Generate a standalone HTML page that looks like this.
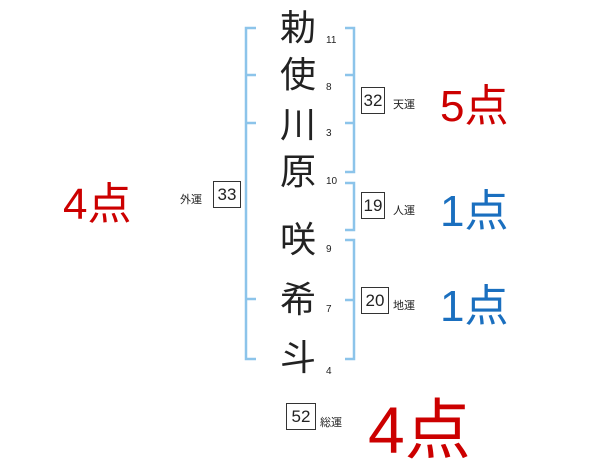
<!DOCTYPE html>
<html><head><meta charset="utf-8"><style>
body{margin:0;width:600px;height:470px;background:#fff;position:relative;overflow:hidden;font-family:"Liberation Sans","Noto Sans CJK JP",sans-serif;color:#222}
.a{position:absolute;white-space:nowrap}
.k{font-size:36px;width:60px;text-align:center;left:268px;line-height:40px}
.n{font-size:10px;left:326px}
.b{border:1px solid #333;font-size:17px;text-align:center;line-height:25px;height:25px}
.l{font-size:11px}
.r{color:#c00}
.bl{color:#1a6fbf}
</style></head><body>
<svg class="a" style="left:0;top:0" width="600" height="470">
<g stroke="#8cc4ea" stroke-width="2.5" fill="none">
<path d="M256 28H246V359H256M246 75H256M246 123H256M246 299H256"/>
<path d="M345 28H354V172H345M345 75H354M345 123H354"/>
<path d="M345 183H354V230H345"/>
<path d="M345 240H354V359H345M345 300H354"/>
</g></svg>
<div class="a k" style="top:8px">勅</div>
<div class="a k" style="top:55px">使</div>
<div class="a k" style="top:105px">川</div>
<div class="a k" style="top:152px">原</div>
<div class="a k" style="top:220px">咲</div>
<div class="a k" style="top:280px">希</div>
<div class="a k" style="top:338px">斗</div>
<div class="a n" style="top:35px">11</div>
<div class="a n" style="top:82px">8</div>
<div class="a n" style="top:128px">3</div>
<div class="a n" style="top:176px">10</div>
<div class="a n" style="top:244px">9</div>
<div class="a n" style="top:304px">7</div>
<div class="a n" style="top:366px">4</div>
<div class="a b" style="left:361px;top:87px;width:22px">32</div>
<div class="a l" style="left:393px;top:96px">天運</div>
<div class="a b" style="left:361px;top:192px;width:22px">19</div>
<div class="a l" style="left:393px;top:202px">人運</div>
<div class="a b" style="left:361px;top:287px;width:26px">20</div>
<div class="a l" style="left:393px;top:297px">地運</div>
<div class="a b" style="left:213px;top:181px;width:26px">33</div>
<div class="a l" style="left:180px;top:191px">外運</div>
<div class="a b" style="left:286px;top:403px;width:28px">52</div>
<div class="a l" style="left:320px;top:414px">総運</div>
<div class="a r" style="left:440px;top:70px;font-size:44px">5点</div>
<div class="a bl" style="left:440px;top:175px;font-size:44px">1点</div>
<div class="a bl" style="left:440px;top:270px;font-size:44px">1点</div>
<div class="a r" style="left:63px;top:168px;font-size:44px">4点</div>
<div class="a r" style="left:368px;top:377px;font-size:66px">4点</div>
</body></html>
